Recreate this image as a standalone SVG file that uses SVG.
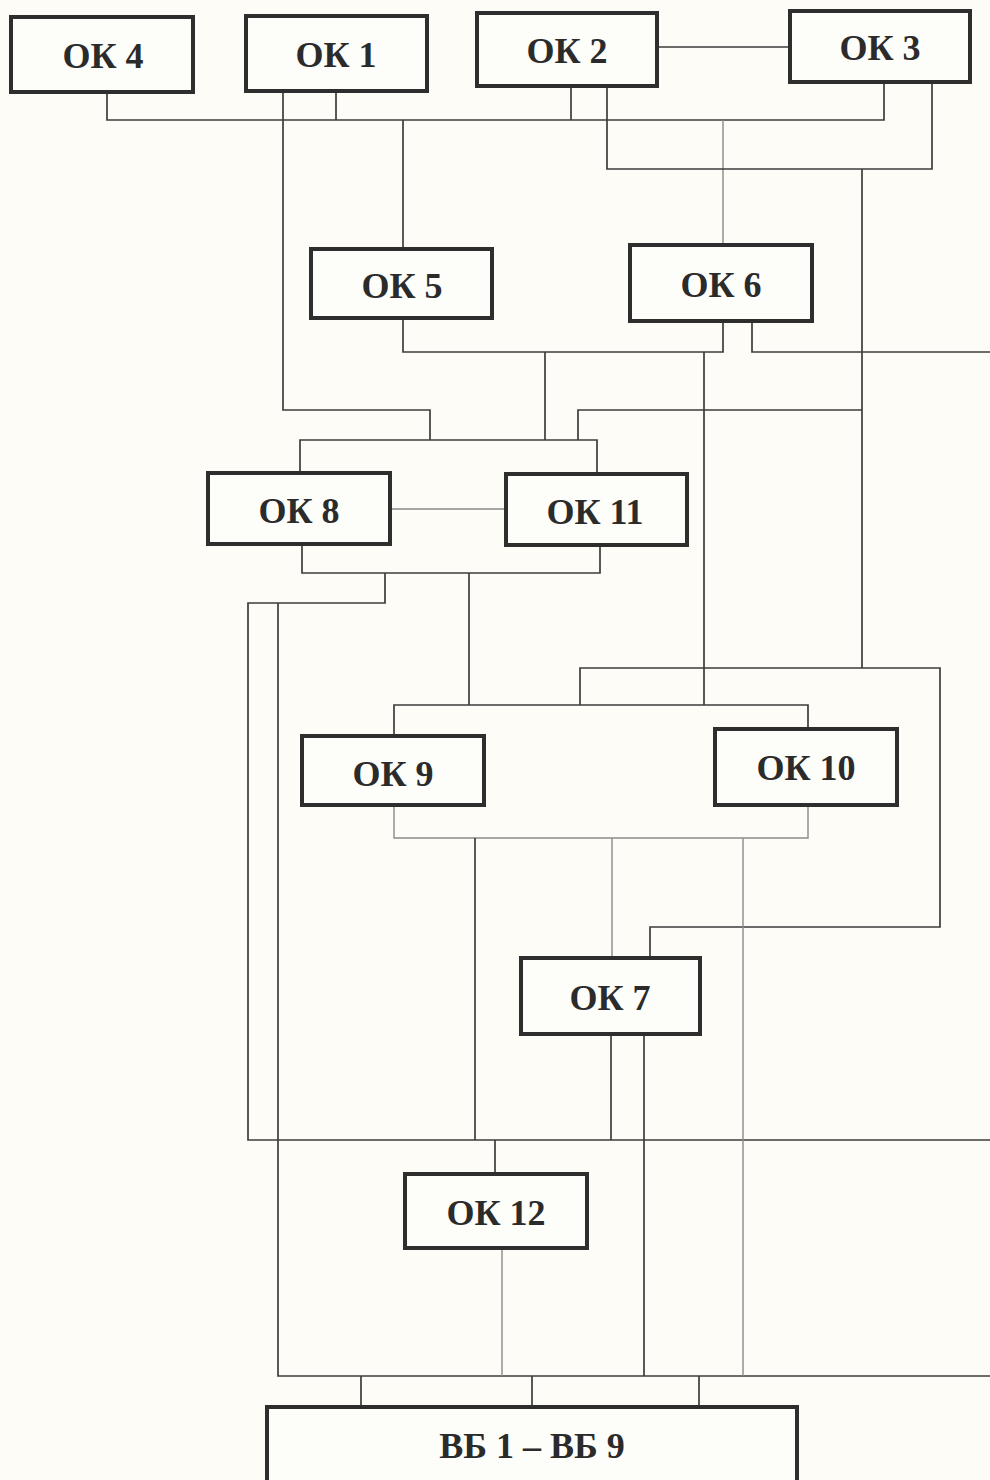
<svg xmlns="http://www.w3.org/2000/svg" width="990" height="1480" viewBox="0 0 990 1480">
<style>
.bx{fill:#fdfdf9;stroke:#2e2e2e;stroke-width:4}
.t{font-family:"Liberation Serif","Times New Roman",serif;font-weight:bold;font-size:36px;fill:#2b2b2b;text-anchor:middle}
.c{fill:none;stroke:#3c3c3c;stroke-width:1.7}
.f{fill:none;stroke:#8a8a8a;stroke-width:1.4}
</style>
<rect x="0" y="0" width="990" height="1480" fill="#fdfcf7"/>
<g id="connectors">
<path class="c" d="M657 47H790"/>
<path class="c" d="M107 92V120H884V82"/>
<path class="c" d="M336 91V120"/>
<path class="c" d="M571 86V120"/>
<path class="c" d="M403 120V249"/>
<path class="f" d="M723 120V245"/>
<path class="c" d="M283 91V410H430V440"/>
<path class="c" d="M607 86V169H932V82"/>
<path class="c" d="M862 169V668"/>
<path class="c" d="M403 318V352H723V321"/>
<path class="c" d="M545 352V440"/>
<path class="c" d="M704 352V705"/>
<path class="c" d="M752 321V352H990"/>
<path class="c" d="M578 440V410H862"/>
<path class="c" d="M300 473V440H597V474"/>
<path class="f" d="M390 509H506"/>
<path class="c" d="M302 544V573H600V545"/>
<path class="c" d="M385 573V603H248V1140H990"/>
<path class="c" d="M278 603V1376H990"/>
<path class="c" d="M469 573V705"/>
<path class="c" d="M394 736V705H808V729"/>
<path class="c" d="M580 705V668H940V927H650V958"/>
<path class="f" d="M394 805V838H808V805"/>
<path class="c" d="M475 838V1140"/>
<path class="f" d="M612 838V958"/>
<path class="f" d="M743 838V1376"/>
<path class="c" d="M495 1140V1174"/>
<path class="c" d="M611 1034V1140"/>
<path class="c" d="M644 1034V1376"/>
<path class="f" d="M502 1248V1376"/>
<path class="c" d="M361 1376V1407M532 1376V1407M699 1376V1407"/>
</g>
<g id="ok4"><rect class="bx" x="11" y="17" width="182" height="75"/><text class="t" x="103" y="68">ОК 4</text></g>
<g id="ok1"><rect class="bx" x="246" y="16" width="181" height="75"/><text class="t" x="336" y="67">ОК 1</text></g>
<g id="ok2"><rect class="bx" x="477" y="13" width="180" height="73"/><text class="t" x="567" y="63">ОК 2</text></g>
<g id="ok3"><rect class="bx" x="790" y="11" width="180" height="71"/><text class="t" x="880" y="60">ОК 3</text></g>
<g id="ok5"><rect class="bx" x="311" y="249" width="181" height="69"/><text class="t" x="402" y="298">ОК 5</text></g>
<g id="ok6"><rect class="bx" x="630" y="245" width="182" height="76"/><text class="t" x="721" y="297">ОК 6</text></g>
<g id="ok8"><rect class="bx" x="208" y="473" width="182" height="71"/><text class="t" x="299" y="523">ОК 8</text></g>
<g id="ok11"><rect class="bx" x="506" y="474" width="181" height="71"/><text class="t" x="595" y="524">ОК 11</text></g>
<g id="ok9"><rect class="bx" x="302" y="736" width="182" height="69"/><text class="t" x="393" y="786">ОК 9</text></g>
<g id="ok10"><rect class="bx" x="715" y="729" width="182" height="76"/><text class="t" x="806" y="780">ОК 10</text></g>
<g id="ok7"><rect class="bx" x="521" y="958" width="179" height="76"/><text class="t" x="610" y="1010">ОК 7</text></g>
<g id="ok12"><rect class="bx" x="405" y="1174" width="182" height="74"/><text class="t" x="496" y="1225">ОК 12</text></g>
<g id="vb"><rect class="bx" x="267" y="1407" width="530" height="90"/><text class="t" x="532" y="1458">ВБ 1 – ВБ 9</text></g>
</svg>
